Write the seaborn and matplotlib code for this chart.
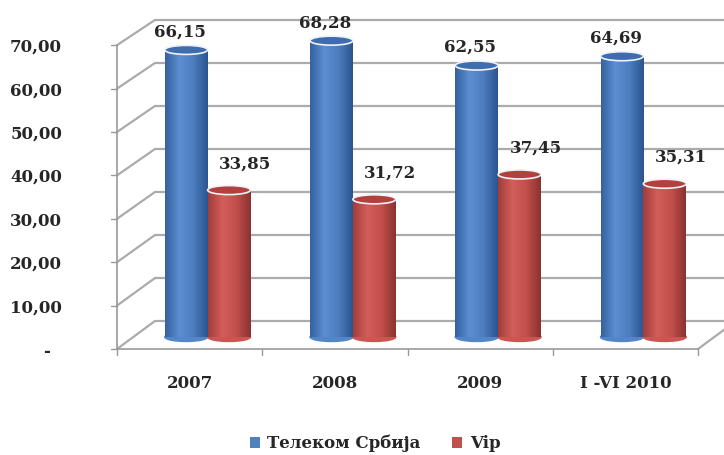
import numpy as np
import pandas as pd
import seaborn as sns
import matplotlib
matplotlib.use('Agg')
import matplotlib.pyplot as plt
from matplotlib.patches import Ellipse
from matplotlib.colors import LinearSegmentedColormap

# ---------------------------------------------------------------------------
# Data (market share, %)
# ---------------------------------------------------------------------------
periods = ['2007', '2008', '2009', 'I -VI 2010']
operators = ['Телеком Србија', 'Vip']
telekom = [66.15, 68.28, 62.55, 64.69]
vip = [33.85, 31.72, 37.45, 35.31]
y_ticks = [0, 10, 20, 30, 40, 50, 60, 70]
y_labels = ['-  ', '10,00', '20,00', '30,00', '40,00', '50,00', '60,00', '70,00']

df = pd.DataFrame({
    'period': periods * 2,
    'operator': [operators[0]] * len(periods) + [operators[1]] * len(periods),
    'share': telekom + vip,
})

# ---------------------------------------------------------------------------
# Style
# ---------------------------------------------------------------------------
sns.set_style('white')
plt.rcParams['font.family'] = ['DejaVu Serif']
plt.rcParams['font.weight'] = 'bold'
FS = 12

blue, red = '#4F81BD', '#C0504D'
cmaps = [
    LinearSegmentedColormap.from_list('b', ['#3762A0', '#5C8ED2', '#4C7DBE', '#2C5590']),
    LinearSegmentedColormap.from_list('r', ['#A23E3B', '#D35E5A', '#C24F4C', '#8A3330']),
]
caps = ['#3E6CAE', '#B2403D']
grid_c = '#ABABAB'

# fake-3D geometry (pixel offsets of front / back planes vs. bar plane)
PX_X = 581 / 4
PX_Y = 4.34
FRONT_DX, FRONT_DY = -18 / PX_X, -12 / PX_Y
BACK_DX = 20 / PX_X
Y_LO, Y_HI = FRONT_DY - 0.05, 70


def back_y(v):
    return 0.991 * v + 16 / PX_Y


fig = plt.figure(figsize=(7.24, 4.55), dpi=100)
zero_px = 337  # bar baseline, pixels from top
ax = fig.add_axes([135 / 724, (455 - zero_px + Y_LO * PX_Y) / 455,
                   581 / 724, (Y_HI - Y_LO) * PX_Y / 455])
ax.patch.set_alpha(0)

g = sns.barplot(data=df, x='period', y='share', hue='operator', order=periods,
                hue_order=operators, palette=[blue, red], width=0.59,
                saturation=1, linewidth=0, ax=ax, zorder=1)
handles, labels = ax.get_legend_handles_labels()
ax.get_legend().remove()

# walls / floor
xl_f, xr_f = -0.5 + FRONT_DX, len(periods) - 0.5 + FRONT_DX
xl_b = -0.5 + BACK_DX
kw = dict(color=grid_c, lw=1.6, clip_on=False, zorder=0.5, solid_capstyle='round')
for v in y_ticks:
    ax.plot([xl_b, len(periods) + 1], [back_y(v)] * 2, **kw)
    ax.plot([xl_f, xl_b], [v + FRONT_DY, back_y(v)], **kw)
    ax.plot([xl_f - 6 / PX_X, xl_f], [v + FRONT_DY] * 2, color='#999999', lw=1,
            clip_on=False)
ax.plot([xl_f, xl_f], [FRONT_DY, y_ticks[-1] + FRONT_DY], color='#999999', lw=1.2,
        clip_on=False)
ax.plot([xl_f, xr_f], [FRONT_DY] * 2, color='#999999', lw=1.2, clip_on=False)
ax.plot([xr_f, xr_f + BACK_DX - FRONT_DX], [FRONT_DY, back_y(0)], **kw)
for i in range(len(periods) + 1):
    b = i - 0.5 + FRONT_DX
    ax.plot([b, b], [FRONT_DY, FRONT_DY - 6 / PX_Y], color='#999999', lw=1,
            clip_on=False)

# cylinder look: gradient body, rounded bottom, elliptic cap, value labels
cap_h = 9 / PX_Y
grad = np.linspace(0, 1, 64).reshape(1, -1)
offsets = [(-4.5, 13), (11.5, 19)]
for k, cont in enumerate(ax.containers):
    for bar in cont:
        x0, w, h = bar.get_x(), bar.get_width(), bar.get_height()
        cx = x0 + w / 2
        ax.add_patch(Ellipse((cx, 0), w, cap_h, color=cmaps[k](0.5), zorder=0.9,
                             clip_on=False))
        im = ax.imshow(grad, extent=[x0, x0 + w, 0, h], aspect='auto',
                       cmap=cmaps[k], zorder=1.5, interpolation='bilinear')
        im.set_clip_path(bar)
        ax.add_patch(Ellipse((cx, h), w, cap_h, facecolor=caps[k],
                             edgecolor='#EEF2F8', lw=1.2, zorder=2))
        ax.annotate(f'{h:.2f}'.replace('.', ','), (cx, h),
                    xytext=offsets[k], textcoords='offset points',
                    ha='center', va='center', fontsize=FS, fontweight='bold',
                    zorder=3)

sns.despine(ax=ax, left=True, bottom=True)

ax.set_xticks([i + FRONT_DX for i in range(len(periods))], labels=periods)
ax.set_yticks([v + FRONT_DY for v in y_ticks], labels=y_labels)
ax.tick_params(axis='x', length=0, pad=18.5, labelsize=FS)
ax.tick_params(axis='y', length=0, pad=52.5, labelsize=FS)
ax.set(xlabel=None, ylabel=None)
# limits last: set_ticks would otherwise widen them
ax.set_xlim(-0.5, len(periods) - 0.5)
ax.set_ylim(Y_LO, Y_HI)

fig.legend(handles, labels, loc='center', bbox_to_anchor=(0.518, 0.025),
           ncol=2, frameon=False, fontsize=FS, handlelength=0.6,
           handleheight=0.6, handletextpad=0.45, columnspacing=1.9)

fig.savefig('out.png', dpi=100)
